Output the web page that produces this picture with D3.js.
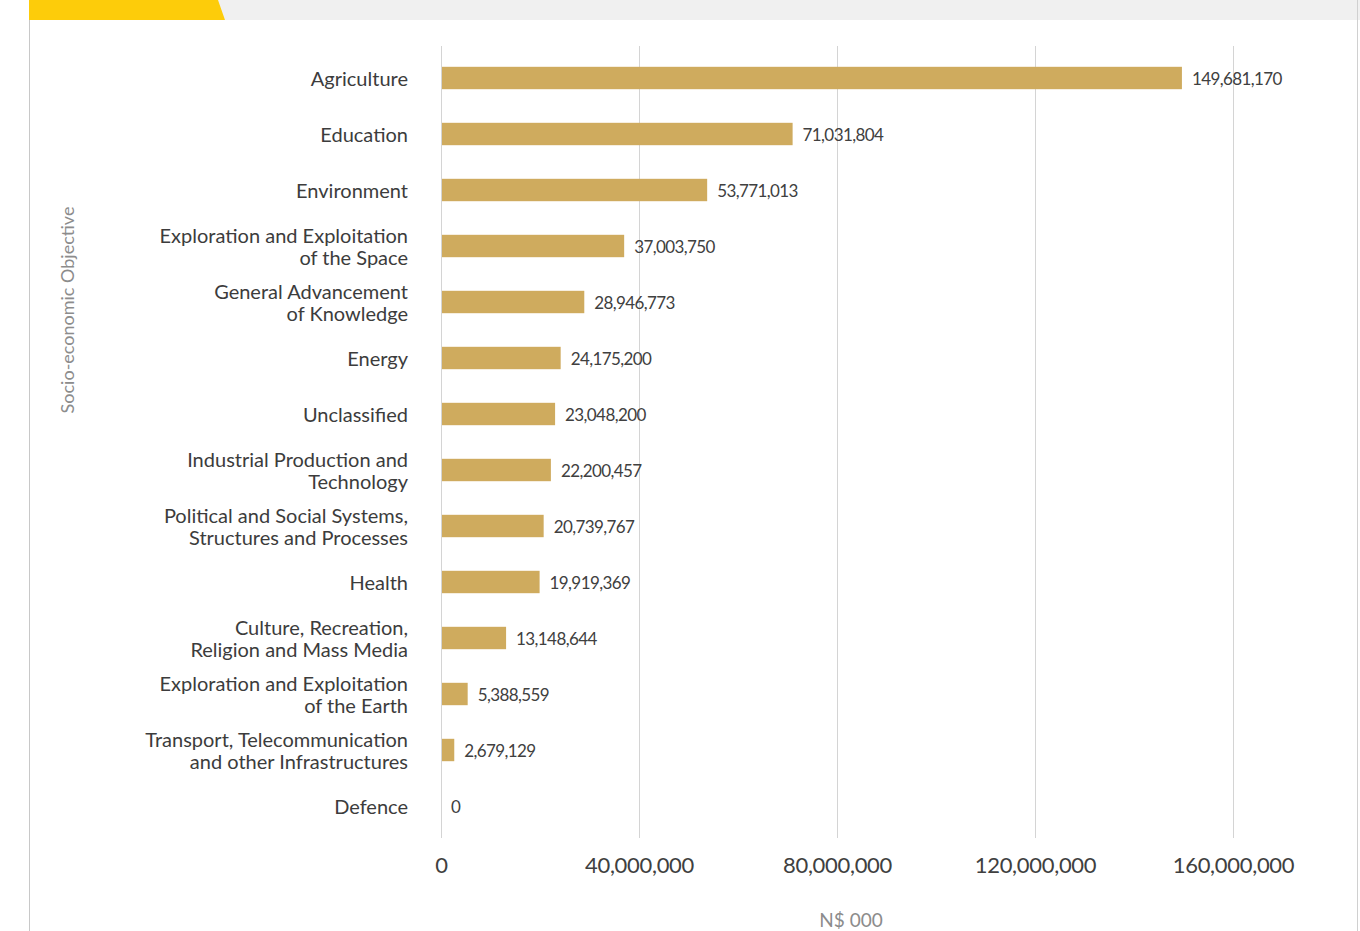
<!DOCTYPE html>
<html>
<head>
<meta charset="utf-8">
<script src="https://cdn.jsdelivr.net/npm/d3@7"></script>
<style>
  html, body { margin: 0; padding: 0; background: #ffffff; }
  svg { display: block; }
  text { font-family: "Lato", "Open Sans", sans-serif; }
</style>
</head>
<body>
<svg id="chart" width="1360" height="931"></svg>
<script>
// Expenditure by socio-economic objective (N$ 000)
const categories = [
  ["Agriculture"],
  ["Education"],
  ["Environment"],
  ["Exploration and Exploitation", "of the Space"],
  ["General Advancement", "of Knowledge"],
  ["Energy"],
  ["Unclassified"],
  ["Industrial Production and", "Technology"],
  ["Political and Social Systems,", "Structures and Processes"],
  ["Health"],
  ["Culture, Recreation,", "Religion and Mass Media"],
  ["Exploration and Exploitation", "of the Earth"],
  ["Transport, Telecommunication", "and other Infrastructures"],
  ["Defence"]
];
const values = [
  149681170, 71031804, 53771013, 37003750, 28946773, 24175200, 23048200,
  22200457, 20739767, 19919369, 13148644, 5388559, 2679129, 0
];
const tickValues = [0, 40000000, 80000000, 120000000, 160000000];
const xTitle = "N$ 000";
const yTitle = "Socio-economic Objective";

const svg = d3.select("#chart");

// page frame: grey header strip with yellow tab, thin side borders
svg.append("rect").attr("x", 0).attr("y", 0).attr("width", 1360).attr("height", 20).attr("fill", "#f0f0f0");
svg.append("rect").attr("x", 0).attr("y", 0).attr("width", 29).attr("height", 20).attr("fill", "#ffffff");
svg.append("path").attr("d", "M29,0 L218,0 L225,20 L29,20 Z").attr("fill", "#fdcc0a");
svg.append("line").attr("x1", 29.5).attr("x2", 29.5).attr("y1", 20).attr("y2", 931).attr("stroke", "#c8c8c8").attr("stroke-width", 1);
svg.append("line").attr("x1", 1357.5).attr("x2", 1357.5).attr("y1", 0).attr("y2", 931).attr("stroke", "#d0d0d0").attr("stroke-width", 1);

const x = d3.scaleLinear().domain([0, 160000000]).range([441, 1233]);
const y = d3.scaleBand().domain(d3.range(categories.length)).range([50, 834]).paddingInner(0.6).paddingOuter(0.3);

// vertical gridlines
svg.append("g").selectAll("line").data(tickValues).join("line")
  .attr("x1", d => Math.round(x(d)) + 0.5).attr("x2", d => Math.round(x(d)) + 0.5)
  .attr("y1", 46).attr("y2", 838)
  .attr("stroke", "#d4d4d4").attr("stroke-width", 1);

// bars
svg.append("g").selectAll("rect").data(values).join("rect")
  .attr("x", x(0) + 1)
  .attr("y", (d, i) => y(i))
  .attr("width", d => Math.max(0, x(d) - x(0) - 1))
  .attr("height", y.bandwidth())
  .attr("fill", "#cfab5e");

const fmt = d3.format(",");

// value labels
svg.append("g").selectAll("text").data(values).join("text")
  .attr("x", d => x(d) + 10)
  .attr("y", (d, i) => y(i) + y.bandwidth() / 2)
  .attr("dy", "0.4em")
  .attr("font-size", 17)
  .attr("letter-spacing", "-0.6")
  .attr("fill", "#404040")
  .text(d => fmt(d));

// category labels (right aligned, one or two lines)
const catG = svg.append("g").selectAll("text").data(categories).join("text")
  .attr("text-anchor", "end")
  .attr("font-size", 20)
  .attr("fill", "#3c3c3c")
  .attr("transform", (d, i) => `translate(408,${y(i) + y.bandwidth() / 2})`);
catG.selectAll("tspan").data(d => d.map((t, k) => ({ t, k, n: d.length }))).join("tspan")
  .attr("x", 0)
  .attr("y", d => (d.k - (d.n - 1) / 2) * 22)
  .attr("dy", "0.42em")
  .text(d => d.t);

// x axis tick labels
const xAxis = d3.axisBottom(x).tickValues(tickValues).tickSize(0).tickPadding(0).tickFormat(fmt);
const axG = svg.append("g").attr("transform", "translate(0,865)").call(xAxis);
axG.select(".domain").remove();
axG.selectAll("text")
  .attr("y", 0).attr("dy", "0.35em")
  .attr("font-size", 22)
  .attr("font-family", "Lato, 'Open Sans', sans-serif")
  .attr("letter-spacing", "-0.3")
  .attr("fill", "#404040");

// axis titles
svg.append("text")
  .attr("x", 851).attr("y", 927)
  .attr("text-anchor", "middle")
  .attr("font-size", 19)
  .attr("fill", "#8c8c8c")
  .text(xTitle);

svg.append("text")
  .attr("transform", "translate(68,310) rotate(-90)")
  .attr("dy", "0.35em")
  .attr("text-anchor", "middle")
  .attr("font-size", 18)
  .attr("fill", "#8c8c8c")
  .text(yTitle);
</script>
</body>
</html>
